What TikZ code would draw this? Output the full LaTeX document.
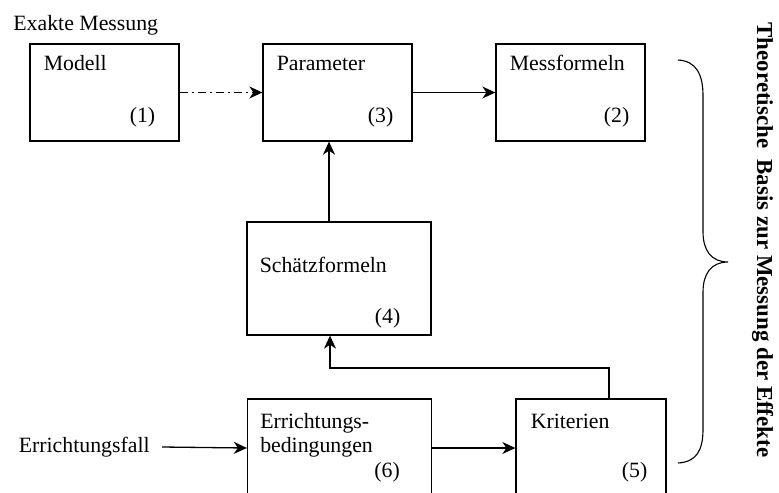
\documentclass[tikz,border=0pt]{standalone}
\usepackage{fontspec}
\setmainfont{Liberation Serif}
\usetikzlibrary{calc,arrows.meta}

\begin{document}
\begin{tikzpicture}[x=0.5pt, y=-0.5pt, font=\fontsize{10.9}{13}\selectfont,
  box/.style={draw, line width=0.65pt, inner sep=0pt},
  txt/.style={inner sep=0pt, anchor=base west},
  num/.style={inner sep=0pt, anchor=base east},
  arr/.style={-{Stealth[length=6.5pt, width=6pt, inset=2pt]}, line width=0.65pt}]
\clip (0,0) rectangle (779,492);
\node[txt] (exakt) at (13,31) {Exakte Messung};
% upper row
\node[box, minimum width=74.5pt, minimum height=48.5pt] (modell) at (104.5,92.5) {};
\node[box, minimum width=74.5pt, minimum height=48.5pt] (param) at (337.5,92.5) {};
\node[box, minimum width=74.5pt, minimum height=48.5pt] (messf) at (570.5,92.5) {};
\node[txt] (tmodell) at ($(modell.north west)+(14,27)$) {Modell};
\node[num] (nmodell) at ($(modell.south east)+(-24,-19)$) {(1)};
\node[txt] (tparam) at ($(param.north west)+(14,27)$) {Parameter};
\node[num] (nparam) at ($(param.south east)+(-19,-19)$) {(3)};
\node[txt] (tmessf) at ($(messf.north west)+(14,27)$) {Messformeln};
\node[num] (nmessf) at ($(messf.south east)+(-16,-19)$) {(2)};
\draw[arr, dash pattern=on 4pt off 2pt on 1pt off 2pt] (modell) -- (param);
\draw[arr] (param) -- (messf);
% middle
\node[box, minimum width=92pt, minimum height=56.5pt] (schaetz) at (339,278.5) {};
\node[txt] (tschaetz) at ($(schaetz.north west)+(13,51)$) {Schätzformeln};
\node[num] (nschaetz) at ($(schaetz.south east)+(-31,-12)$) {(4)};
\coordinate (hoch) at (329,0);
\draw[arr] (schaetz.north -| hoch) -- (param.south -| hoch);
% lower row
\node[box, minimum width=92pt, minimum height=65.5pt] (erricht) at (339.5,464.5) {};
\node[box, minimum width=75pt, minimum height=65.5pt] (krit) at (591,464.5) {};
\node[txt] (terricht) at ($(erricht.north west)+(13,30)$) {Errichtungs-};
\node[txt] (terricht2) at ($(erricht.north west)+(13,54)$) {bedingungen};
\node[num] (nerricht) at ($(erricht.north east)+(-32,79)$) {(6)};
\node[txt] (tkrit) at ($(krit.north west)+(15,30)$) {Kriterien};
\node[num] (nkrit) at ($(krit.north east)+(-19,79)$) {(5)};
\node[inner sep=0pt, anchor=east] (fall) at (150,447) {Errichtungsfall};
\coordinate (zeile) at (0,448);
\draw[arr] ($(fall.east)+(12,0)$ |- zeile) -- (erricht.west |- zeile);
\draw[arr] (erricht.east |- zeile) -- (krit.west |- zeile);
\coordinate (rueck) at (609,368);
\coordinate (knick) at (330,368);
\draw[arr] (krit.north -| rueck) -- (rueck) -- (knick) -- (schaetz.south -| knick);
% brace and side title
\draw[line width=0.55pt] (678,60) .. controls (696,61) and (703,74) .. (703,96) -- (703,232)
  .. controls (703,250) and (711,262) .. (728,262) .. controls (711,262) and (703,274) .. (703,292)
  -- (703,429) .. controls (703,451) and (696,462) .. (678,463);
\node[inner sep=0pt, anchor=base, rotate=-90, font=\fontsize{11.45}{13}\selectfont\bfseries] (basis) at (757,240) {Theoretische\ \ Basis zur Messung der Effekte};
\end{tikzpicture}
\end{document}
